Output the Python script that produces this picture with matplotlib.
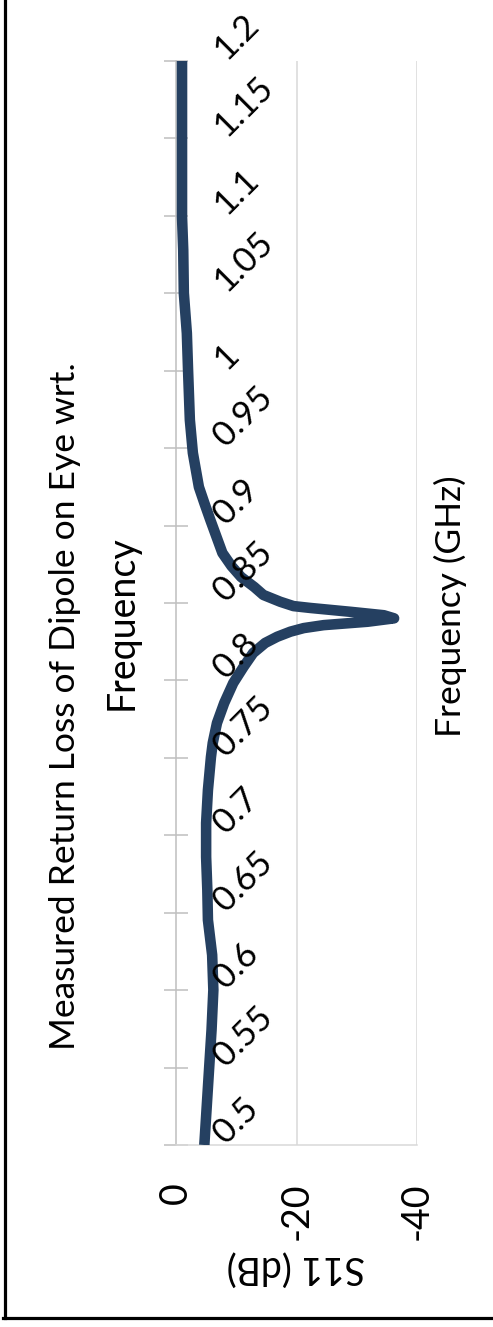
import matplotlib.pyplot as plt
from matplotlib.lines import Line2D

plt.rcParams['font.family'] = ['Lato', 'DejaVu Sans']
plt.rcParams['axes.unicode_minus'] = False

# measured S11 of the dipole on the eye model
freq = [0.5000, 0.5497, 0.5743, 0.6001, 0.6227, 0.6453, 0.6647, 0.6860, 0.7079, 0.7292,
        0.7505, 0.7596, 0.7725, 0.7854, 0.7983, 0.8087, 0.8177, 0.8242, 0.8282, 0.8315,
        0.8338, 0.8357, 0.8379, 0.8401, 0.8421, 0.8443, 0.8468, 0.8480, 0.8508, 0.8552,
        0.8603, 0.8668, 0.8739, 0.8823, 0.9036, 0.9146, 0.9249, 0.9359, 0.9469, 0.9682,
        1.0005, 1.0243, 1.0502, 1.0779, 1.0993, 1.1496, 1.2000]
s11 = [-4.7, -5.5, -5.9, -6.2, -6.0, -5.3, -5.2, -5.0, -5.0, -5.3,
       -5.8, -6.1, -6.8, -8.0, -9.5, -11.2, -12.8, -14.8, -16.8, -19.0,
       -21.2, -24.5, -31.8, -36.2, -34.5, -29.0, -22.3, -19.5, -17.3, -14.5,
       -13.0, -10.8, -9.2, -7.7, -5.7, -4.7, -3.8, -3.3, -2.8, -2.3,
       -2.0, -1.8, -1.3, -1.2, -1.0, -1.0, -1.0]

freq_ticks = [0.5, 0.55, 0.6, 0.65, 0.7, 0.75, 0.8, 0.85, 0.9, 0.95,
              1, 1.05, 1.1, 1.15, 1.2]
freq_labels = ['0.5', '0.55', '0.6', '0.65', '0.7', '0.75', '0.8', '0.85', '0.9',
               '0.95', '1', '1.05', '1.1', '1.15', '1.2']
db_ticks = [0, -20, -40]

TITLE1 = 'Measured Return Loss of Dipole on Eye wrt.'
TITLE2 = 'Frequency'
XNAME = 'Frequency (GHz)'
YNAME = 'S11 (dB)'

W, H = 493, 1327
fig = plt.figure(figsize=(W / 100, H / 100), dpi=100)
# chart is laid out sideways: dB runs left->right, frequency bottom->top
ax = fig.add_axes([176 / W, 1 - 1145 / H, 241 / W, 1084 / H])

ax.plot(s11, freq, color='#254061', linewidth=7.6,
        solid_capstyle='butt', solid_joinstyle='round', zorder=3)

ax.set_xlim(0, -40)
ax.set_ylim(0.5, 1.2)

grid_col = '#D9D9D9'
for v in db_ticks[1:]:
    ax.axvline(v, color=grid_col, linewidth=1.1, zorder=1)
for side in ['top', 'right']:
    ax.spines[side].set_visible(False)
ax.spines['left'].set_color('#BFBFBF')
ax.spines['left'].set_linewidth(1.1)
ax.spines['bottom'].set_color(grid_col)
ax.spines['bottom'].set_linewidth(1.1)

ax.set_yticks(freq_ticks)
ax.tick_params(axis='y', direction='inout', length=17, width=1.1,
               color='#BFBFBF', labelleft=False)
ax.set_xticks(db_ticks)
ax.set_xticklabels([str(v) for v in db_ticks])
ax.tick_params(axis='x', length=0, pad=27, labelrotation=90, labelsize=27)

# frequency labels sit inside the plot next to the 0 dB line
for f, lab in zip(freq_ticks, freq_labels):
    ax.text(-8.3, f, lab, rotation=45, rotation_mode='anchor',
            ha='left', va='baseline', fontsize=25, zorder=4)

fig.text(65 / W, 1 - 706 / H, TITLE1, rotation=90, ha='center', va='center',
         fontsize=25.5)
fig.text(122 / W, 1 - 623 / H, TITLE2, rotation=90, ha='center', va='center',
         fontsize=27)
fig.text(450 / W, 1 - 606 / H, XNAME, rotation=90, ha='center', va='center',
         fontsize=25.5)
fig.text(296 / W, 1 - 1268 / H, YNAME, rotation=180, ha='center', va='center',
         fontsize=27)

# outer frame (left and bottom edges)
fig.add_artist(Line2D([4.5 / W, 4.5 / W], [1, 1 - 1317.5 / H],
                      color='black', linewidth=2.3, transform=fig.transFigure))
fig.add_artist(Line2D([3 / W, 1], [1 - 1317.5 / H, 1 - 1317.5 / H],
                      color='black', linewidth=2.3, transform=fig.transFigure))

plt.savefig('out.png', dpi=100)
